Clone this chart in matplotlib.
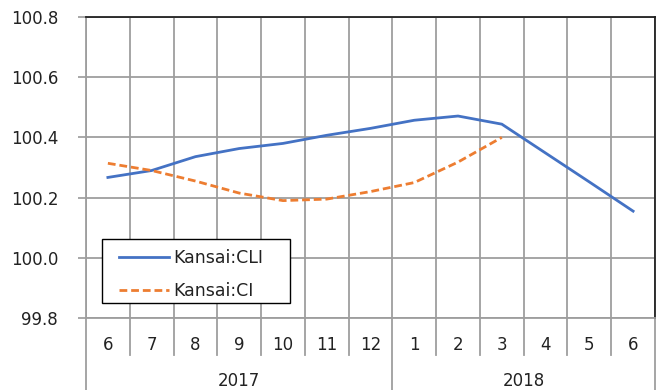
import matplotlib
matplotlib.use("Agg")
import matplotlib.pyplot as plt
import matplotlib.transforms as mtransforms
from matplotlib.patches import Rectangle

months = ["6", "7", "8", "9", "10", "11", "12", "1", "2", "3", "4", "5", "6"]
years = ["2017", "2018"]
year_spans = [(0, 6), (7, 12)]
cli = [100.267, 100.29, 100.336, 100.363, 100.38, 100.407, 100.43, 100.457, 100.471, 100.444, 100.348, 100.252, 100.155]
ci = [100.314, 100.29, 100.255, 100.215, 100.19, 100.195, 100.22, 100.25, 100.318, 100.40]

W, H = 657, 390
fig = plt.figure(figsize=(W / 100, H / 100), dpi=100)
plt.rcParams['font.family'] = ['DejaVu Sans']
left, right, top, bottom = 86, 655, 17, 318
ax = fig.add_axes([left / W, 1 - bottom / H, (right - left) / W, (bottom - top) / H])

x = list(range(len(months)))
ax.plot(x, cli, color="#4472C4", lw=2.0, label="Kansai:CLI", zorder=3)
ax.plot(x[:len(ci)], ci, color="#ED7D31", lw=2.0, ls=(0, (2.8, 1.4)), label="Kansai:CI", zorder=3)

ax.set_xlim(-0.5, len(months) - 0.5)
ax.set_ylim(99.8, 100.8)
yt = [99.8, 100.0, 100.2, 100.4, 100.6, 100.8]
ax.set_yticks(yt)
ax.set_yticklabels([f"{v:.1f}" for v in yt], fontsize=12, color="#222222")
ax.tick_params(axis="y", length=6, width=1.2, color="#999999", pad=14)
ax.grid(axis="y", color="#9e9e9e", lw=1.3)

ax.set_xticks(x)
ax.set_xticklabels(months, fontsize=12, color="#222222")
ax.tick_params(axis="x", length=0, pad=13)

bounds = [i - 0.5 for i in range(len(months) + 1)]
for b in bounds:
    ax.axvline(b, color="#9e9e9e", lw=1.3, zorder=1)

trans = mtransforms.blended_transform_factory(ax.transData, ax.transAxes)
depth_month = (355 - bottom) / (bottom - top)
depth_year = (H - bottom) / (bottom - top)
year_bounds = {-0.5, 6.5, len(months) - 0.5}
for b in bounds:
    d = depth_year if b in year_bounds else depth_month
    ax.plot([b, b], [0, -d], transform=trans, color="#9e9e9e", lw=1.3, clip_on=False)

for yl, (a, b) in zip(years, year_spans):
    ax.text((a + b) / 2, -(381 - bottom) / (bottom - top), yl, transform=trans,
            ha="center", va="center", fontsize=12, color="#222222")

for s in ["left", "bottom"]:
    ax.spines[s].set_color("#9e9e9e")
    ax.spines[s].set_linewidth(1.3)
for s in ["top", "right"]:
    ax.spines[s].set_color("#222222")
    ax.spines[s].set_linewidth(1.3)

# legend frame (figure pixel box 102..290 x 239..303)
fx0, fx1, fy0, fy1 = 102, 290, 239, 303
frame = Rectangle((fx0 / W, 1 - fy1 / H), (fx1 - fx0) / W, (fy1 - fy0) / H,
                  transform=fig.transFigure, facecolor="white", edgecolor="black", lw=1.0, zorder=5)
fig.add_artist(frame)
leg = fig.legend(*ax.get_legend_handles_labels(), loc="upper left",
                 bbox_to_anchor=(119 / W, 1 - 249 / H),
                 fontsize=12.5, frameon=False, handlelength=2.9,
                 borderaxespad=0, labelspacing=0.85, borderpad=0.0, handletextpad=0.25)
leg.set_zorder(6)
for t in leg.get_texts():
    t.set_color("#222222")

fig.savefig("out.png", dpi=100)
